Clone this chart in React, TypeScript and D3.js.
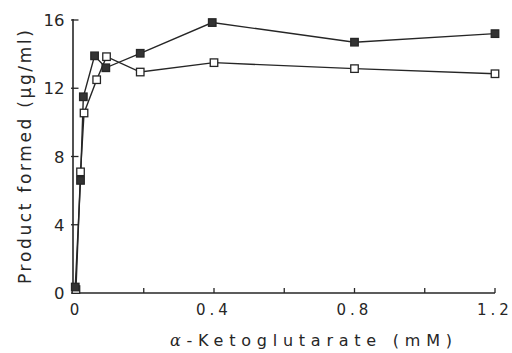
import React from 'react';
import * as d3 from 'd3';

// α-ketoglutarate concentration (mM) vs product formed (µg/ml)
const filledX = [0.005, 0.02, 0.028, 0.06, 0.092, 0.19, 0.395, 0.8, 1.2];
const filledY = [0.35, 6.6, 11.5, 13.9, 13.2, 14.05, 15.85, 14.7, 15.2];
const openX = [0.007, 0.02, 0.03, 0.066, 0.094, 0.19, 0.4, 0.8, 1.2];
const openY = [0.2, 7.1, 10.55, 12.5, 13.85, 12.95, 13.5, 13.15, 12.85];
const xTicks = [0, 0.2, 0.4, 0.6, 0.8, 1.0, 1.2];
const xLabels = [0, 0.4, 0.8, 1.2];
const yTicks = [0, 4, 8, 12, 16];

const W = 512;
const H = 353;
const ink = '#262626';
const font = "'DejaVu Sans', sans-serif";

const App = () => {
  const x = d3.scaleLinear().domain([0, 1.2]).range([73.5, 495]);
  const y = d3.scaleLinear().domain([0, 16]).range([293, 20]);

  const line = d3.line<[number, number]>()
    .x(d => x(d[0]))
    .y(d => y(d[1]));

  const filled = filledX.map((v, i) => [v, filledY[i]] as [number, number]);
  const open = openX.map((v, i) => [v, openY[i]] as [number, number]);
  const s = 7.5;

  return (
    <svg width={W} height={H} style={{ position: 'absolute', left: 0, top: 0, background: '#fff' }}>
      {/* axes */}
      <line x1={x(0) - 0.5} x2={x(0) - 0.5} y1={y(0)} y2={y(16) - 1} stroke={ink} strokeWidth={1.6} />
      <line x1={x(0) - 0.5} x2={x(1.2)} y1={y(0)} y2={y(0)} stroke={ink} strokeWidth={1.6} />
      {yTicks.map(t => (
        <g key={'y' + t}>
          <line x1={x(0) - 2.5} x2={x(0) + 5} y1={y(t)} y2={y(t)} stroke={ink} strokeWidth={1.3} />
          <text x={x(0) - 9} y={y(t) + 6} textAnchor="end" fontFamily={font} fontSize={16.5} fill={ink}>{t}</text>
        </g>
      ))}
      {xTicks.map(t => (
        <line key={'x' + t} x1={x(t)} x2={x(t)} y1={y(0)} y2={y(0) - 5} stroke={ink} strokeWidth={1.3} />
      ))}
      {xLabels.map(t => (
        <text key={'xl' + t} x={x(t) + (t === 0 ? 1 : 0)} y={315} textAnchor="middle" fontFamily={font} fontSize={15}
          letterSpacing={t === 0 ? 0 : 4} fill={ink}>{t === 0 ? '0' : String(t)}</text>
      ))}
      <text x={311} y={346} textAnchor="middle" fontFamily={font} fontSize={16} fill={ink}
        textLength={282} lengthAdjust="spacing">
        <tspan fontStyle="italic" fontFamily="'DejaVu Serif', serif">α</tspan>-Ketoglutarate (mM)
      </text>
      <text transform="translate(31,157) rotate(-90)" textAnchor="middle" fontFamily={font} fontSize={17}
        fill={ink} textLength={254} lengthAdjust="spacing">Product formed (μg/ml)</text>

      {/* series */}
      <path d={line(open) || ''} fill="none" stroke={ink} strokeWidth={1.4} />
      <path d={line(filled) || ''} fill="none" stroke={ink} strokeWidth={1.4} />
      {open.map((d, i) => (
        <rect key={'o' + i} x={x(d[0]) - s / 2} y={y(d[1]) - s / 2} width={s} height={s}
          fill="#fff" stroke={ink} strokeWidth={1.3} />
      ))}
      {filled.map((d, i) => (
        <rect key={'f' + i} x={x(d[0]) - s / 2} y={y(d[1]) - s / 2} width={s} height={s}
          fill="#333" stroke={ink} strokeWidth={1.3} />
      ))}
    </svg>
  );
};

export default App;
